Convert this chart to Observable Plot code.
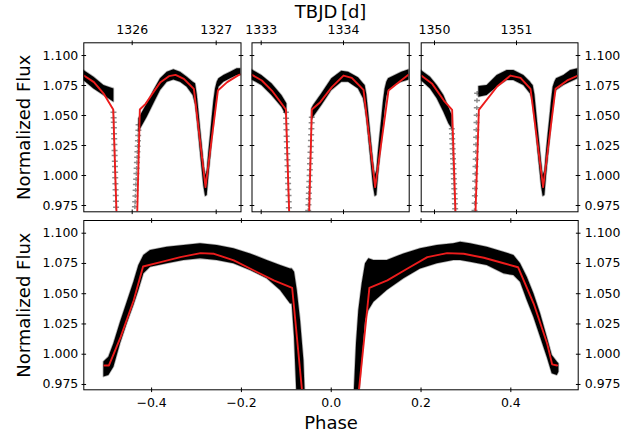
<!DOCTYPE html>
<html>
<head>
<meta charset="utf-8">
<script src="https://cdn.jsdelivr.net/npm/d3@7"></script>
<script src="https://cdn.jsdelivr.net/npm/@observablehq/plot@0.6"></script>
<style>
  html, body { margin: 0; padding: 0; background: #fff; overflow: hidden; }
  #chart { position: relative; width: 642px; height: 436px; font-family: "DejaVu Sans", sans-serif; }
  #chart svg { position: absolute; left: 0; top: 0; }
</style>
</head>
<body>
<div id="chart"></div>
<script>
// ---------------- data ----------------
const yTickValues = [0.975, 1.000, 1.025, 1.050, 1.075, 1.100];
const p1TickValues = [1326, 1327];
const p2TickValues = [1333, 1334];
const p3TickValues = [1350, 1351];
const phaseTickValues = [-0.4, -0.2, 0.0, 0.2, 0.4];

// Panel 1 (TBJD 1325.4 – 1327.3): envelope of the observed scatter
const p1T  = [1325.424,1325.544,1325.663,1325.722,1325.782,1325.93,1326.079,1326.179,1326.258,1326.337,1326.417,1326.496,1326.575,1326.655,1326.726,1326.754,1326.774,1326.794,1326.813,1326.833,1326.853,1326.873,1326.893,1326.913,1326.933,1326.952,1326.972,1326.992,1327.012,1327.032,1327.091,1327.171,1327.250,1327.296];
const p1Lo = [1.0792,1.0722,1.0667,1.0639,1.0611,null,1.0361,1.0486,1.0597,1.0708,1.0778,1.0797,1.0778,1.0736,1.0667,1.0589,1.0466,1.0326,1.0188,1.0049,0.9910,0.9825,0.9833,0.9993,1.0132,1.0271,1.0410,1.0549,1.0653,1.0736,1.0778,1.0806,1.0833,1.0833];
const p1Hi = [1.0875,1.0819,1.0750,1.0736,1.0722,null,1.0472,1.0597,1.0708,1.0806,1.0861,1.0881,1.0861,1.0819,1.0778,1.0764,1.0674,1.0534,1.0396,1.0257,1.0118,1.0000,1.0040,1.0201,1.0340,1.0479,1.0618,1.0722,1.0778,1.0806,1.0833,1.0861,1.0889,1.0889];
// Panel 1 sparse points in the primary eclipse ingress / egress
const p1PtT = [1325.777,1325.779,1325.781,1325.782,1325.784,1325.786,1325.788,1325.790,1325.791,1325.793,1325.795,1325.797,1325.798,1325.800,1325.802,1325.804,1325.806,1325.808,
               1326.032,1326.035,1326.038,1326.041,1326.044,1326.047,1326.050,1326.053,1326.056,1326.059,1326.062,1326.065,1326.068,1326.071,1326.074,1326.076];
const p1PtF = [1.0528,1.0481,1.0444,1.0397,1.0347,1.0306,1.0258,1.0208,1.0167,1.0119,1.0075,1.0028,0.9981,0.9931,0.9881,0.9833,0.9786,0.9736,
               0.9740,0.9781,0.9830,0.9878,0.9925,0.9969,1.0017,1.0061,1.0108,1.0153,1.0197,1.0244,1.0289,1.0333,1.0378,1.0422];
// Panel 1 model
const m1T = [1325.424,1325.544,1325.663,1325.774,1325.813,1325.94,1326.060,1326.091,1326.159,1326.238,1326.337,1326.437,1326.516,1326.615,1326.734,1326.873,1327.020,1327.131,1327.270,1327.296];
const m1F = [1.0833,1.0778,1.0680,1.0550,0.9694,0.80,0.9694,1.0550,1.0597,1.0680,1.0778,1.0828,1.0839,1.0806,1.0722,0.9903,1.0708,1.0778,1.0839,1.0843];

// Panel 2 (TBJD 1332.9 – 1334.8)
const p2T  = [1332.888,1333.008,1333.130,1333.251,1333.312,1333.45,1333.615,1333.636,1333.737,1333.858,1333.980,1334.061,1334.182,1334.243,1334.263,1334.283,1334.304,1334.324,1334.344,1334.364,1334.385,1334.405,1334.425,1334.445,1334.466,1334.486,1334.506,1334.526,1334.547,1334.628,1334.709,1334.798];
const p2Lo = [1.0797,1.0750,1.0667,1.0569,1.0492,null,1.0458,1.0486,1.0583,1.0708,1.0778,1.0778,1.0722,1.0639,1.0562,1.0466,1.0326,1.0188,1.0049,0.9910,0.9825,0.9833,0.9993,1.0132,1.0271,1.0410,1.0549,1.0653,1.0708,1.0750,1.0778,1.0797];
const p2Hi = [1.0881,1.0833,1.0764,1.0667,1.0597,null,1.0556,1.0583,1.0681,1.0806,1.0869,1.0861,1.0814,1.0764,1.0750,1.0674,1.0534,1.0396,1.0257,1.0118,1.0000,1.0040,1.0201,1.0340,1.0479,1.0618,1.0722,1.0778,1.0806,1.0833,1.0861,1.0881];
const p2PtT = [1333.300,1333.302,1333.305,1333.307,1333.309,1333.311,1333.314,1333.316,1333.318,1333.320,1333.323,1333.325,1333.327,1333.329,1333.332,1333.334,1333.336,
               1333.571,1333.574,1333.577,1333.579,1333.582,1333.585,1333.588,1333.591,1333.593,1333.596,1333.599,1333.602,1333.604,1333.607,1333.610,1333.613,1333.615];
const p2PtF = [1.0528,1.0478,1.0431,1.0381,1.0328,1.0281,1.0231,1.0181,1.0131,1.0081,1.0031,0.9981,0.9933,0.9883,0.9833,0.9781,0.9731,
               0.9708,0.9756,0.9806,0.9853,0.9903,0.9950,1.0000,1.0047,1.0097,1.0144,1.0194,1.0242,1.0292,1.0339,1.0389,1.0439,1.0486];
const m2T = [1332.888,1333.008,1333.130,1333.300,1333.340,1333.46,1333.583,1333.615,1333.717,1333.858,1334.000,1334.101,1334.243,1334.385,1334.547,1334.648,1334.789,1334.798];
const m2F = [1.0839,1.0792,1.0708,1.0550,0.9694,0.80,0.9694,1.0550,1.0611,1.0736,1.0833,1.0814,1.0714,0.9903,1.0708,1.0764,1.0839,1.0841];

// Panel 3 (TBJD 1349.8 – 1351.75)
const p3T  = [1349.838,1349.951,1350.033,1350.114,1350.175,1350.215,1350.36,1350.541,1350.642,1350.764,1350.886,1350.967,1351.089,1351.171,1351.183,1351.203,1351.224,1351.244,1351.264,1351.285,1351.305,1351.325,1351.346,1351.366,1351.386,1351.407,1351.427,1351.447,1351.467,1351.488,1351.577,1351.659,1351.750];
const p3Lo = [1.0792,1.0722,1.0639,1.0528,1.0431,1.0389,null,1.0653,1.0667,1.0736,1.0792,1.0792,1.0750,1.0680,1.0653,1.0589,1.0466,1.0326,1.0188,1.0049,0.9910,0.9825,0.9833,0.9993,1.0132,1.0271,1.0410,1.0549,1.0653,1.0708,1.0750,1.0778,1.0806];
const p3Hi = [1.0875,1.0819,1.0750,1.0667,1.0569,1.0500,null,1.0742,1.0750,1.0833,1.0875,1.0875,1.0833,1.0778,1.0764,1.0750,1.0674,1.0534,1.0396,1.0257,1.0118,1.0000,1.0040,1.0201,1.0340,1.0479,1.0618,1.0736,1.0778,1.0806,1.0833,1.0875,1.0889];
const p3PtT = [1350.211,1350.214,1350.216,1350.219,1350.221,1350.224,1350.226,1350.229,1350.231,1350.234,1350.236,1350.239,1350.241,1350.244,1350.247,1350.249,1350.252,
               1350.488,1350.490,1350.492,1350.494,1350.496,1350.498,1350.500,1350.502,1350.504,1350.506,1350.508,1350.510,1350.512,1350.514,1350.516,1350.518,1350.520];
const p3PtF = [1.0389,1.0347,1.0306,1.0264,1.0222,1.0181,1.0139,1.0097,1.0056,1.0014,0.9972,0.9931,0.9889,0.9847,0.9806,0.9764,0.9722,
               0.9708,0.9769,0.9831,0.9892,0.9953,1.0014,1.0075,1.0136,1.0197,1.0258,1.0319,1.0381,1.0442,1.0503,1.0564,1.0625,1.0686];
const m3T = [1349.838,1349.972,1350.114,1350.215,1350.256,1350.38,1350.500,1350.541,1350.764,1350.927,1351.049,1351.171,1351.325,1351.476,1351.618,1351.750];
const m3F = [1.0833,1.0764,1.0625,1.0547,0.9694,0.80,0.9694,1.0547,1.0742,1.0833,1.0814,1.0722,0.9903,1.0722,1.0792,1.0833];

// Phase-folded panel: envelope of the scatter and model
const phP  = [-0.5063,-0.4952,-0.4840,-0.4692,-0.4543,-0.4395,-0.4284,-0.4172,-0.4024,-0.3653,-0.3281,-0.2910,-0.2539,-0.2168,-0.1797,-0.1425,-0.1128,-0.0906,-0.0869,-0.0817,-0.0757,-0.0683,-0.0609,-0.0572,0,0.0504,0.0563,0.0615,0.0690,0.0764,0.0838,0.0950,0.1246,0.1618,0.1989,0.2360,0.2731,0.2880,0.3102,0.3474,0.3845,0.4068,0.4216,0.4365,0.4513,0.4662,0.4810,0.4922,0.5034,0.5070];
const phLo = [0.9811,0.9825,0.9893,1.0086,1.0251,1.0403,1.0527,1.0664,1.0719,1.0747,1.0774,1.0788,1.0774,1.0747,1.0692,1.0623,1.0527,1.0416,1.0416,1.0141,0.9600,0.9600,0.9600,0.9600,null,0.9600,0.9600,0.9600,0.9949,1.0279,1.0361,1.0430,1.0527,1.0623,1.0705,1.0747,1.0774,1.0774,1.0761,1.0733,1.0664,1.0650,1.0595,1.0444,1.0306,1.0141,0.9976,0.9838,0.9825,0.9852];
const phHi = [0.9935,0.9976,1.0086,1.0265,1.0430,1.0595,1.0733,1.0816,1.0857,1.0884,1.0898,1.0912,1.0898,1.0871,1.0829,1.0774,1.0733,1.0705,1.0705,1.0678,1.0527,1.0279,0.9949,0.9600,null,0.9600,1.0086,1.0361,1.0582,1.0747,1.0788,1.0774,1.0774,1.0829,1.0871,1.0898,1.0912,1.0926,1.0912,1.0884,1.0843,1.0816,1.0747,1.0637,1.0499,1.0334,1.0141,0.9990,0.9935,0.9921];
const mpP = [-0.505,-0.495,-0.469,-0.440,-0.419,-0.380,-0.336,-0.291,-0.261,-0.217,-0.172,-0.128,-0.087,-0.065,0,0.0616,0.085,0.125,0.169,0.214,0.258,0.295,0.340,0.384,0.416,0.451,0.481,0.492,0.503];
const mpF = [0.9907,0.9907,1.0141,1.0444,1.0725,1.0761,1.0802,1.0835,1.0830,1.0775,1.0692,1.0610,1.0549,0.9700,0.80,0.9700,1.0549,1.0610,1.0706,1.0802,1.0835,1.0830,1.0797,1.0752,1.0719,1.0417,1.0087,0.9916,0.9907];

// ---------------- drawing ----------------
const W = 642, H = 436;
const RED = "#ec1c1c";
const fmtY = d3.format(".3f");
const fmtPhase = d3.format(".1f");
const vTick = {draw(c) { c.moveTo(0, -2.3); c.lineTo(0, 2.3); }};
const hTick = {draw(c) { c.moveTo(-2.3, 0); c.lineTo(2.3, 0); }};
const plusMark = {draw(c) { c.moveTo(-3, 0); c.lineTo(3, 0); c.moveTo(0, -2.2); c.lineTo(0, 2.2); }};

const band = (t, lo, hi) => t.map((x, i) => ({x, lo: lo[i], hi: hi[i]}));
const pairs = (t, f) => t.map((x, i) => ({x, y: f[i]}));

function panel(cfg) {
  const {frame: [x0, x1, y0, y1], xDomain, yDomain, xTicks, xFmt, xAnchor, yAnchors, bandData, pts, model, extra = []} = cfg;
  const tickStyle = {stroke: "#000", fill: "none", strokeWidth: 1};
  return Plot.plot({
    width: W, height: H,
    marginLeft: x0, marginRight: W - x1, marginTop: y0, marginBottom: H - y1,
    x: {domain: xDomain, axis: null, label: null},
    y: {domain: yDomain, axis: null, label: null},
    style: {background: "none", fontFamily: "DejaVu Sans, sans-serif", fontSize: "12.5px", color: "#000", overflow: "visible"},
    marks: [
      Plot.areaY(bandData, {x: "x", y1: "lo", y2: "hi", fill: "#000", stroke: "#000", strokeOpacity: 0.3, strokeWidth: 1.6, clip: true}),
      pts ? Plot.dot(pts, {x: "x", y: "y", symbol: plusMark, stroke: "#000", strokeOpacity: 0.45, fill: "none", clip: true}) : null,
      Plot.line(model, {x: "x", y: "y", stroke: RED, strokeWidth: 1.9, clip: true}),
      Plot.frame({stroke: "#000", strokeWidth: 1}),
      Plot.dot(xTicks, {x: d => d, frameAnchor: "top", symbol: vTick, ...tickStyle}),
      Plot.dot(xTicks, {x: d => d, frameAnchor: "bottom", symbol: vTick, ...tickStyle}),
      Plot.dot(yTickValues, {y: d => d, frameAnchor: "left", symbol: hTick, ...tickStyle}),
      Plot.dot(yTickValues, {y: d => d, frameAnchor: "right", symbol: hTick, ...tickStyle}),
      xAnchor ? Plot.axisX(xTicks, {anchor: xAnchor, tickSize: 0, tickPadding: 8.5, tickFormat: xFmt, label: null, fontSize: 12.5}) : null,
      ...yAnchors.map(a => Plot.axisY(yTickValues, {anchor: a, tickSize: 0, tickPadding: a === "left" ? 5.5 : 6.5, tickFormat: fmtY, label: null, fontSize: 12.5})),
      ...extra
    ]
  });
}

const yDomTop = [0.96975, 1.1106];
const chart = document.getElementById("chart");
const yLabel = () => Plot.text(["Normalized Flux"], {text: d => d, frameAnchor: "left", dx: -59.5, rotate: -90, textAnchor: "middle", lineAnchor: "middle", fontSize: 18});

chart.append(panel({
  frame: [83.3, 240.5, 42.3, 211.3], xDomain: [1325.4238, 1327.2952], yDomain: yDomTop,
  xTicks: p1TickValues, xFmt: d => String(d), xAnchor: "top", yAnchors: ["left"],
  bandData: band(p1T, p1Lo, p1Hi), pts: pairs(p1PtT, p1PtF), model: pairs(m1T, m1F),
  extra: [yLabel()]
}));
chart.append(panel({
  frame: [251.5, 408.7, 42.3, 211.3], xDomain: [1332.8882, 1334.7983], yDomain: yDomTop,
  xTicks: p2TickValues, xFmt: d => String(d), xAnchor: "top", yAnchors: [],
  bandData: band(p2T, p2Lo, p2Hi), pts: pairs(p2PtT, p2PtF), model: pairs(m2T, m2F),
  extra: [Plot.text(["TBJD\u2009[d]"], {text: d => d, frameAnchor: "top", dy: -31, textAnchor: "middle", lineAnchor: "middle", fontSize: 18})]
}));
chart.append(panel({
  frame: [420.7, 577.5, 42.3, 211.3], xDomain: [1349.8378, 1351.75], yDomain: yDomTop,
  xTicks: p3TickValues, xFmt: d => String(d), xAnchor: "top", yAnchors: ["right"],
  bandData: band(p3T, p3Lo, p3Hi), pts: pairs(p3PtT, p3PtF), model: pairs(m3T, m3F)
}));
chart.append(panel({
  frame: [83.3, 577.7, 220, 389.3], xDomain: [-0.551, 0.550], yDomain: [0.9706, 1.1105],
  xTicks: phaseTickValues, xFmt: d => fmtPhase(d), xAnchor: "bottom", yAnchors: ["left", "right"],
  bandData: band(phP, phLo, phHi), pts: null, model: pairs(mpP, mpF),
  extra: [
    yLabel(),
    Plot.text(["Phase"], {text: d => d, frameAnchor: "bottom", dy: 39, textAnchor: "middle", lineAnchor: "bottom", fontSize: 18})
  ]
}));
</script>
</body>
</html>
